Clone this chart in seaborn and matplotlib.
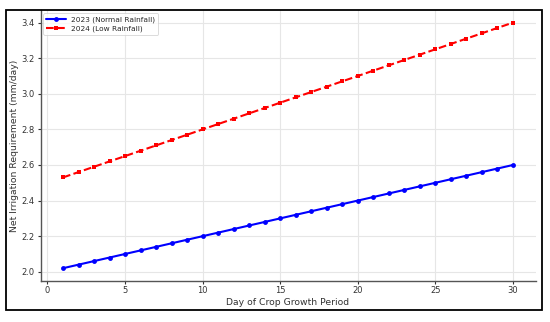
import pandas as pd
import matplotlib.pyplot as plt
import seaborn as sns
from matplotlib.patches import Rectangle

# Values
days = list(range(1, 31))
normal_2023 = [2.02, 2.04, 2.06, 2.08, 2.10, 2.12, 2.14, 2.16, 2.18, 2.20,
               2.22, 2.24, 2.26, 2.28, 2.30, 2.32, 2.34, 2.36, 2.38, 2.40,
               2.42, 2.44, 2.46, 2.48, 2.50, 2.52, 2.54, 2.56, 2.58, 2.60]
low_2024 = [2.53, 2.56, 2.59, 2.62, 2.65, 2.68, 2.71, 2.74, 2.77, 2.80,
            2.83, 2.86, 2.89, 2.92, 2.95, 2.98, 3.01, 3.04, 3.07, 3.10,
            3.13, 3.16, 3.19, 3.22, 3.25, 3.28, 3.31, 3.34, 3.37, 3.40]

df = pd.DataFrame({"day": days, "y2023": normal_2023, "y2024": low_2024})

sns.set_style("whitegrid")
plt.rcParams['font.family'] = ['DejaVu Sans']

fig = plt.figure(figsize=(5.5, 3.22), dpi=100)
ax = fig.add_axes([40.5 / 550, 1 - 280.5 / 322, (535.5 - 40.5) / 550, (280.5 - 10.3) / 322])

sns.lineplot(data=df, x="day", y="y2023", ax=ax, color="blue", marker="o",
             markersize=3.5, markeredgewidth=0, linewidth=1.5,
             label="2023 (Normal Rainfall)")
sns.lineplot(data=df, x="day", y="y2024", ax=ax, color="red", marker="s",
             markersize=3.3, markeredgewidth=0, linewidth=1.5, linestyle="--",
             label="2024 (Low Rainfall)")

ax.set_xticks([0, 5, 10, 15, 20, 25, 30])
ax.set_yticks([2.0, 2.2, 2.4, 2.6, 2.8, 3.0, 3.2, 3.4])
ax.set_xlim(-0.45, 31.45)
ax.set_ylim(1.951, 3.469)
ax.grid(True, color="#e6e6e6", linewidth=0.8)
ax.tick_params(axis="both", labelsize=6.0, colors="#333333", length=2.5, width=0.8,
               left=True, bottom=True, pad=1.5)
for s in ["top", "right"]:
    ax.spines[s].set_visible(False)
for s in ["left", "bottom"]:
    ax.spines[s].set_color("#555555")
    ax.spines[s].set_linewidth(1.0)

ax.set_xlabel("Day of Crop Growth Period", fontsize=6.7, color="#333333", labelpad=2)
ax.set_ylabel("Net Irrigation Requirement (mm/day)", fontsize=6.7, color="#333333")
# label sits midway between the outer frame and the tick labels
ax.yaxis.set_label_coords(-(40.5 - 19.5) / 495, 0.5)

leg = ax.legend(loc="upper left", fontsize=5.3, frameon=True, borderaxespad=0.4,
                handlelength=2.6, borderpad=0.4, labelspacing=0.3)
leg.get_frame().set_edgecolor("#cccccc")
leg.get_frame().set_linewidth(0.6)

# outer black frame around the chart
fig.patches.append(Rectangle((5.7 / 550, 1 - 310 / 322), (541.7 - 5.7) / 550, (310 - 10) / 322,
                             transform=fig.transFigure, fill=False, edgecolor="black",
                             linewidth=1.3))

fig.savefig("out.png", dpi=100)
